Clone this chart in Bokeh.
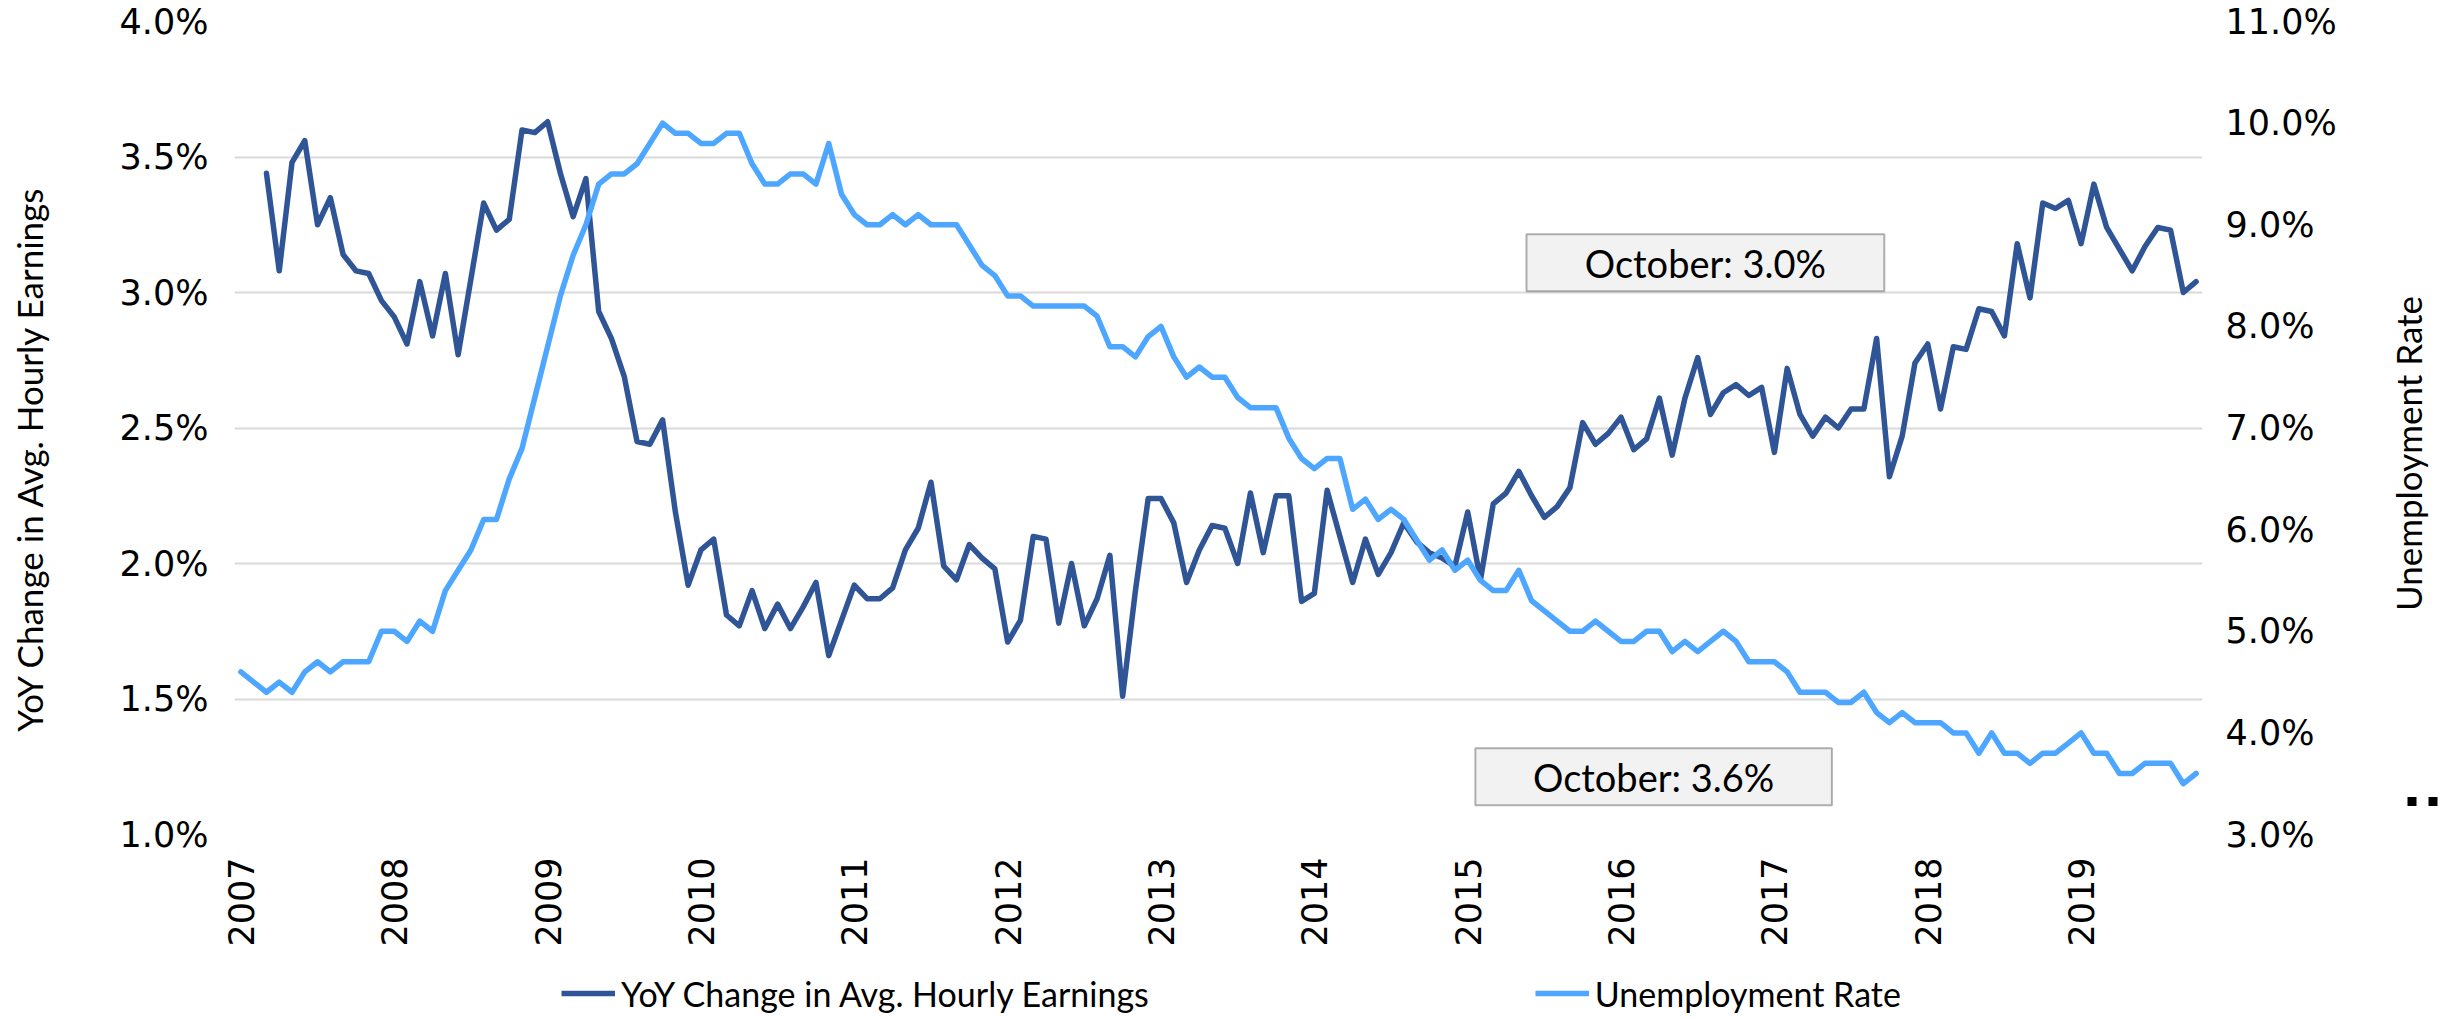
import math
from bokeh.plotting import figure
from bokeh.layouts import row, column
from bokeh.models import (Range1d, LinearAxis, FixedTicker, PrintfTickFormatter,
                          Legend, LegendItem, Label, BoxAnnotation)
from bokeh.embed import file_html
from bokeh.resources import INLINE

# ---------------- data ----------------
years = ["2007", "2008", "2009", "2010", "2011", "2012", "2013",
         "2014", "2015", "2016", "2017", "2018", "2019"]

# Unemployment rate (%), monthly Jan 2007 - Oct 2019
unemployment = [
    4.6, 4.5, 4.4, 4.5, 4.4, 4.6, 4.7, 4.6, 4.7, 4.7, 4.7, 5.0,   # 2007
    5.0, 4.9, 5.1, 5.0, 5.4, 5.6, 5.8, 6.1, 6.1, 6.5, 6.8, 7.3,   # 2008
    7.8, 8.3, 8.7, 9.0, 9.4, 9.5, 9.5, 9.6, 9.8, 10.0, 9.9, 9.9,  # 2009
    9.8, 9.8, 9.9, 9.9, 9.6, 9.4, 9.4, 9.5, 9.5, 9.4, 9.8, 9.3,   # 2010
    9.1, 9.0, 9.0, 9.1, 9.0, 9.1, 9.0, 9.0, 9.0, 8.8, 8.6, 8.5,   # 2011
    8.3, 8.3, 8.2, 8.2, 8.2, 8.2, 8.2, 8.1, 7.8, 7.8, 7.7, 7.9,   # 2012
    8.0, 7.7, 7.5, 7.6, 7.5, 7.5, 7.3, 7.2, 7.2, 7.2, 6.9, 6.7,   # 2013
    6.6, 6.7, 6.7, 6.2, 6.3, 6.1, 6.2, 6.1, 5.9, 5.7, 5.8, 5.6,   # 2014
    5.7, 5.5, 5.4, 5.4, 5.6, 5.3, 5.2, 5.1, 5.0, 5.0, 5.1, 5.0,   # 2015
    4.9, 4.9, 5.0, 5.0, 4.8, 4.9, 4.8, 4.9, 5.0, 4.9, 4.7, 4.7,   # 2016
    4.7, 4.6, 4.4, 4.4, 4.4, 4.3, 4.3, 4.4, 4.2, 4.1, 4.2, 4.1,   # 2017
    4.1, 4.1, 4.0, 4.0, 3.8, 4.0, 3.8, 3.8, 3.7, 3.8, 3.8, 3.9,   # 2018
    4.0, 3.8, 3.8, 3.6, 3.6, 3.7, 3.7, 3.7, 3.5, 3.6,             # 2019
]

# YoY change in average hourly earnings (%), monthly Mar 2007 - Oct 2019
earnings_start = 2  # first value is March 2007
earnings = [
    3.44, 3.08, 3.48, 3.56, 3.25, 3.35, 3.14, 3.08, 3.07, 2.97,               # 2007
    2.91, 2.81, 3.04, 2.84, 3.07, 2.77, 3.05, 3.33, 3.23, 3.27, 3.60, 3.59,   # 2008
    3.63, 3.44, 3.28, 3.42, 2.93, 2.83, 2.69, 2.45, 2.44, 2.53, 2.19, 1.92,   # 2009
    2.05, 2.09, 1.81, 1.77, 1.90, 1.76, 1.85, 1.76, 1.84, 1.93, 1.66, 1.79,   # 2010
    1.92, 1.87, 1.87, 1.91, 2.05, 2.13, 2.30, 1.99, 1.94, 2.07, 2.02, 1.98,   # 2011
    1.71, 1.79, 2.10, 2.09, 1.78, 2.00, 1.77, 1.87, 2.03, 1.51, 1.90, 2.24,   # 2012
    2.24, 2.15, 1.93, 2.05, 2.14, 2.13, 2.00, 2.26, 2.04, 2.25, 2.25, 1.86,   # 2013
    1.89, 2.27, 2.10, 1.93, 2.09, 1.96, 2.04, 2.15, 2.08, 2.04, 2.02, 1.99,   # 2014
    2.19, 1.94, 2.22, 2.26, 2.34, 2.25, 2.17, 2.21, 2.28, 2.52, 2.44, 2.48,   # 2015
    2.54, 2.42, 2.46, 2.61, 2.40, 2.61, 2.76, 2.55, 2.63, 2.66, 2.62, 2.65,   # 2016
    2.41, 2.72, 2.55, 2.47, 2.54, 2.50, 2.57, 2.57, 2.83, 2.32, 2.47, 2.74,   # 2017
    2.81, 2.57, 2.80, 2.79, 2.94, 2.93, 2.84, 3.18, 2.98, 3.33, 3.31, 3.34,   # 2018
    3.18, 3.40, 3.24, 3.16, 3.08, 3.17, 3.24, 3.23, 3.00, 3.04,               # 2019
]

left_ticks = [1.0, 1.5, 2.0, 2.5, 3.0, 3.5, 4.0]
right_ticks = [3.0, 4.0, 5.0, 6.0, 7.0, 8.0, 9.0, 10.0, 11.0]

series_names = ["YoY Change in Avg. Hourly Earnings", "Unemployment Rate"]
callouts = ["October: 3.0%", "October: 3.6%"]

# ---------------- styles / layout sizes ----------------
TICK_FONT = "DejaVu Sans"
TICK_SIZE = "35px"
TEXT_FONT = "Lato"
TITLE_SIZE = "35px"
LEGEND_SIZE = "34px"
DARK = "#2f5597"
LIGHT = "#4da6ff"
LINE_W = 5.5

TOTAL_W, TOTAL_H = 2453, 1020
LEFT_W, RIGHT_W = 50, 73           # side strips holding the axis titles
MAIN_W = TOTAL_W - LEFT_W - RIGHT_W
MAIN_H = 950
LEGEND_H = TOTAL_H - MAIN_H        # strip holding the legend
FRAME_TOP, FRAME_BOTTOM = 21, 834  # plot-area edges inside the main figure
FRAME_LEFT_BORDER = 184
FRAME_RIGHT_BORDER = 178


def strip(w, h, y0, y1):
    s = figure(width=w, height=h, output_backend="svg", toolbar_location=None,
               x_range=Range1d(0, w), y_range=Range1d(y0, y1),
               x_axis_type=None, y_axis_type=None,
               min_border=0, min_border_left=0, min_border_right=0,
               min_border_top=0, min_border_bottom=0)
    s.outline_line_color = None
    s.background_fill_color = "white"
    s.border_fill_color = "white"
    return s


# ---------------- main chart ----------------
months_u = list(range(len(unemployment)))
months_e = list(range(earnings_start, earnings_start + len(earnings)))

p = figure(width=MAIN_W, height=MAIN_H, output_backend="svg", toolbar_location=None,
           x_range=Range1d(-0.5, len(unemployment) - 0.5),
           y_range=Range1d(left_ticks[0], left_ticks[-1]),
           min_border_left=FRAME_LEFT_BORDER, min_border_right=FRAME_RIGHT_BORDER,
           min_border_top=FRAME_TOP, min_border_bottom=MAIN_H - FRAME_BOTTOM)
p.extra_y_ranges = {"unemp": Range1d(right_ticks[0], right_ticks[-1])}
p.outline_line_color = None
p.background_fill_color = "white"
p.border_fill_color = "white"


def style_axis(ax, standoff):
    ax.axis_line_color = None
    ax.major_tick_line_color = None
    ax.minor_tick_line_color = None
    ax.major_tick_out = 0
    ax.major_tick_in = 0
    ax.major_label_standoff = standoff
    ax.major_label_text_font = TICK_FONT
    ax.major_label_text_font_size = TICK_SIZE
    ax.major_label_text_color = "black"


xa = p.xaxis[0]
xa.ticker = FixedTicker(ticks=[12 * i for i in range(len(years))])
xa.major_label_overrides = {12 * i: y for i, y in enumerate(years)}
xa.major_label_orientation = math.pi / 2
style_axis(xa, 23)

ya = p.yaxis[0]
ya.ticker = FixedTicker(ticks=left_ticks)
ya.formatter = PrintfTickFormatter(format="%.1f%%")
style_axis(ya, 26)

ra = LinearAxis(y_range_name="unemp", ticker=FixedTicker(ticks=right_ticks),
                formatter=PrintfTickFormatter(format="%.1f%%"))
style_axis(ra, 23)
p.add_layout(ra, "right")

p.xgrid.visible = False
p.ygrid.ticker = FixedTicker(ticks=left_ticks)
p.ygrid.grid_line_color = "#d9d9d9"
p.ygrid.grid_line_width = 2

p.line(months_e, earnings, line_color=DARK, line_width=LINE_W,
       line_join="round", line_cap="round")
p.line(months_u, unemployment, line_color=LIGHT, line_width=LINE_W,
       line_join="round", line_cap="round", y_range_name="unemp")

# callout boxes (data units of the left axis / month index)
box_specs = [
    (100.6, 128.6, 3.005, 3.215),
    (96.6, 124.5, 1.108, 1.318),
]
for (l, r, b, t), txt in zip(box_specs, callouts):
    p.add_layout(BoxAnnotation(left=l, right=r, bottom=b, top=t,
                               fill_color="#f2f2f2", fill_alpha=1.0,
                               line_color="black", line_width=2))
    p.add_layout(Label(x=(l + r) / 2, y=(b + t) / 2, text=txt,
                       text_font=TEXT_FONT, text_font_size="38px",
                       text_color="black", text_align="center",
                       text_baseline="middle"))

# side strips: their plot areas line up with the main plot area, so the
# y range maps "MAIN_H - pixel row" over exactly that band
Y0, Y1 = MAIN_H - FRAME_BOTTOM, MAIN_H - FRAME_TOP

left = strip(LEFT_W, MAIN_H, Y0, Y1)
left.add_layout(Label(x=28, y=MAIN_H - 458, text=series_names[0], angle=math.pi / 2,
                      text_font=TEXT_FONT, text_font_size=TITLE_SIZE,
                      text_color="black", text_align="center",
                      text_baseline="middle"))

right = strip(RIGHT_W, MAIN_H, Y0, Y1)
right.add_layout(Label(x=27, y=MAIN_H - 453, text=series_names[1], angle=math.pi / 2,
                       text_font=TEXT_FONT, text_font_size=TITLE_SIZE,
                       text_color="black", text_align="center",
                       text_baseline="middle"))
right.quad(left=[27, 48], right=[36, 57],
           bottom=[MAIN_H - 805.5] * 2, top=[MAIN_H - 796.5] * 2,
           fill_color="black", line_color=None)

# legend strip (keys reuse the series, drawn outside this strip's view)
leg = figure(width=TOTAL_W, height=LEGEND_H, output_backend="svg", toolbar_location=None,
             x_range=Range1d(0, 1), y_range=Range1d(0, 1),
             x_axis_type=None, y_axis_type=None,
             min_border=0, min_border_left=0, min_border_right=0,
             min_border_top=0, min_border_bottom=0)
leg.outline_line_color = None
leg.background_fill_color = "white"
leg.border_fill_color = "white"
r_e_key = leg.line(months_e, earnings, line_color=DARK, line_width=LINE_W)
r_u_key = leg.line(months_u, unemployment, line_color=LIGHT, line_width=LINE_W)
legend = Legend(items=[LegendItem(label=series_names[0], renderers=[r_e_key]),
                       LegendItem(label=series_names[1], renderers=[r_u_key])],
                location=(561, -3), orientation="horizontal",
                glyph_width=54, glyph_height=60, label_height=60,
                label_standoff=6, spacing=386,
                padding=0, margin=0,
                border_line_color=None, background_fill_alpha=0,
                label_text_font=TEXT_FONT, label_text_font_size=LEGEND_SIZE,
                label_text_color="black")
leg.add_layout(legend)

layout = column(row(left, p, right, spacing=0), leg, spacing=0)

open("out.html", "w").write(file_html(layout, INLINE))
